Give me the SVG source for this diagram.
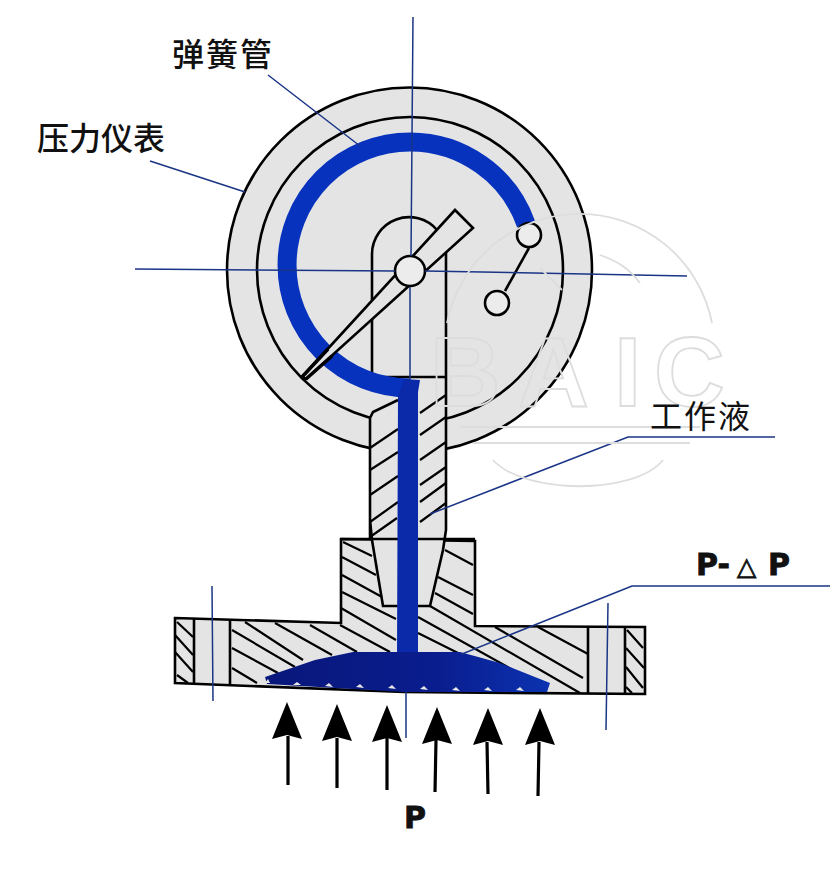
<svg xmlns="http://www.w3.org/2000/svg" width="840" height="872" viewBox="0 0 840 872">
<style>
.g{fill:#e4e4e4;stroke:#000;stroke-width:2.600}
.l{fill:none;stroke:#000;stroke-width:2.600}
.h{fill:none;stroke:#000;stroke-width:2.200}
.b{fill:none;stroke:#1a3486;stroke-width:1.500}
.t{font-family:"Noto Sans CJK SC","Liberation Sans",sans-serif;fill:#111;font-size:32px}
.p{font-family:"DejaVu Sans","Liberation Sans",sans-serif;font-weight:700;fill:#111;stroke:#111;stroke-width:.8}
.w{fill:none;stroke:#dddddd;stroke-width:1.800}
</style>
<defs>
<linearGradient id="lens" x1="0" x2="1" y1="0" y2="0"><stop offset="0" stop-color="#08177a"/><stop offset=".6" stop-color="#0a1d8e"/><stop offset="1" stop-color="#0b32b0"/></linearGradient>
<polygon id="ah" points="0,0 15,37 0,33 -15,37" fill="#000"/>
</defs>
<rect width="840" height="872" fill="#fff"/>
<g id="gauge">
<circle class="g" cx="409.500" cy="270" r="182.500"/>
<circle class="l" cx="410" cy="270" r="153"/>
<path class="l" d="M372 377V254A37 37 0 0 1 437 230M446 248V377M372 377H446"/>
</g>
<g id="body">
<path class="g" d="M175 618 341 623V539L475 541V626L645 627V694L404 692 175 683Z"/>
<path class="l" d="M194 619V683M230 620V684M588 627V693M625 627V694"/>
<path d="M370 418 373 412 398 400V380H446V530L443 550 430 606H383L372 540 370 520Z" fill="#e4e4e4"/>
<path class="l" d="M370 449V418L373 412 398 400M370 449V539M446 377V530L443 550 430 606H383L372 540 370 520M341 539H475"/>
<path class="h" d="M370 448 398 429M370 470 398 452M370 495 398 476M370 522 398 502M370 537 397 518"/>
<path class="h" d="M420 413 446 395M420 435 446 417M420 460 446 442M420 485 446 467M420 502 446 483M420 522 446 503"/>
<path class="h" d="M177 622 193 637M175 635 193 655M175 652 193 672M177 675 188 683"/>
<path class="h" d="M232 630 295 667M232 648 278 673M232 668 257 683M245 622 303 660M275 623 332 655M310 625 357 652M340 625 390 652"/>
<path class="h" d="M343 542 372 556M342 557 376 575M342 575 382 597M342 592 396 619M341 608 396 640"/>
<path class="h" d="M445 550 473 565M438 577 473 595M435 593 473 614M418 617 513 670M430 606 580 693M495 627 583 678M538 627 588 654M418 633 458 653"/>
<path class="h" d="M627 630 643 648M626 648 644 668M626 667 643 688M626 687 632 693"/>
</g>
<g id="working-fluid">
<path d="M526 224A123 123 0 0 0 410 142A123 123 0 0 0 410 388" fill="none" stroke="#0632bd" stroke-width="19"/>
<path d="M398 396 397 652H418V392L420 380 404 379Z" fill="#0a2aaa"/>
<path d="M265 677 315 660 353 652H460L500 663 550 683 547 692 404 692 267 684Z" fill="url(#lens)"/>
<g fill="#e8e8e8"><path d="M293 685 297 682 301 685ZM325 686 329 683 333 687ZM356 687 360 684 364 688ZM388 688 392 685 396 689ZM420 689 424 686 428 690ZM452 690 456 687 460 691ZM484 690 488 687 492 691ZM516 690 520 687 524 691Z"/><path d="M265 683 268 679 270 683Z"/></g>
</g>
<g id="needle-assembly">
<polygon class="g" points="302,377 455,210 473,228 306,379"/>
<path d="M302 377 328 349M306 379 332 356" stroke="#000" stroke-width="3.500"/>
<circle cx="410" cy="271" r="15" fill="#ececec" stroke="#000" stroke-width="2.600"/>
<circle cx="529" cy="235" r="12" fill="#ececec" stroke="#000" stroke-width="2.600"/>
<circle cx="497" cy="303" r="12" fill="#ececec" stroke="#000" stroke-width="2.600"/>
<path class="l" d="M529 248 505 291"/>
</g>
<g id="connectors">
<path class="b" d="M413 17 411 256M410 287 410 380M406 692V738M135 269 395 271M425 271 687 276M212 586 213 701M608 603 606 730"/>
<path class="b" d="M268 75 360 146M150 161 245 192M775 437H628L430 514M830 586H632L462 654"/>
</g>
<g id="arrows">
<path d="M288 736V785M337 738V788M387 738V790M436 740 435 792M487 742 488 794M539 742 538 796" stroke="#000" stroke-width="3.200" fill="none"/>
<use href="#ah" x="287" y="702"/><use href="#ah" x="337" y="704"/><use href="#ah" x="387" y="705"/><use href="#ah" x="437" y="707"/><use href="#ah" x="488" y="708"/><use href="#ah" x="540" y="708"/>
</g>
<g id="watermark">
<path class="w" d="M447 323A135 135 0 0 1 712 323M460 427H700M473 443H690M493 460C525 495 635 495 663 460M540 268 562 290M600 255C620 262 630 270 640 283"/>
<text x="430 518 614 654" y="406" font-family="Liberation Sans,sans-serif" font-size="98" font-weight="700" fill="none" stroke="#dddddd" stroke-width="1.800">BAIC</text>
</g>
<g id="labels">
<text class="t" x="172" y="66" letter-spacing="2" font-weight="500">弹簧管</text>
<text class="t" x="37" y="150" font-weight="500">压力仪表</text>
<text class="t" x="650" y="428" letter-spacing="2">工作液</text>
<text class="p" x="696" y="575" font-size="30">P-</text>
<text class="p" x="737" y="575" font-size="25">△</text>
<text class="p" x="768" y="575" font-size="30">P</text>
<text class="p" x="404" y="828" font-size="30">P</text>
</g>
</svg>
